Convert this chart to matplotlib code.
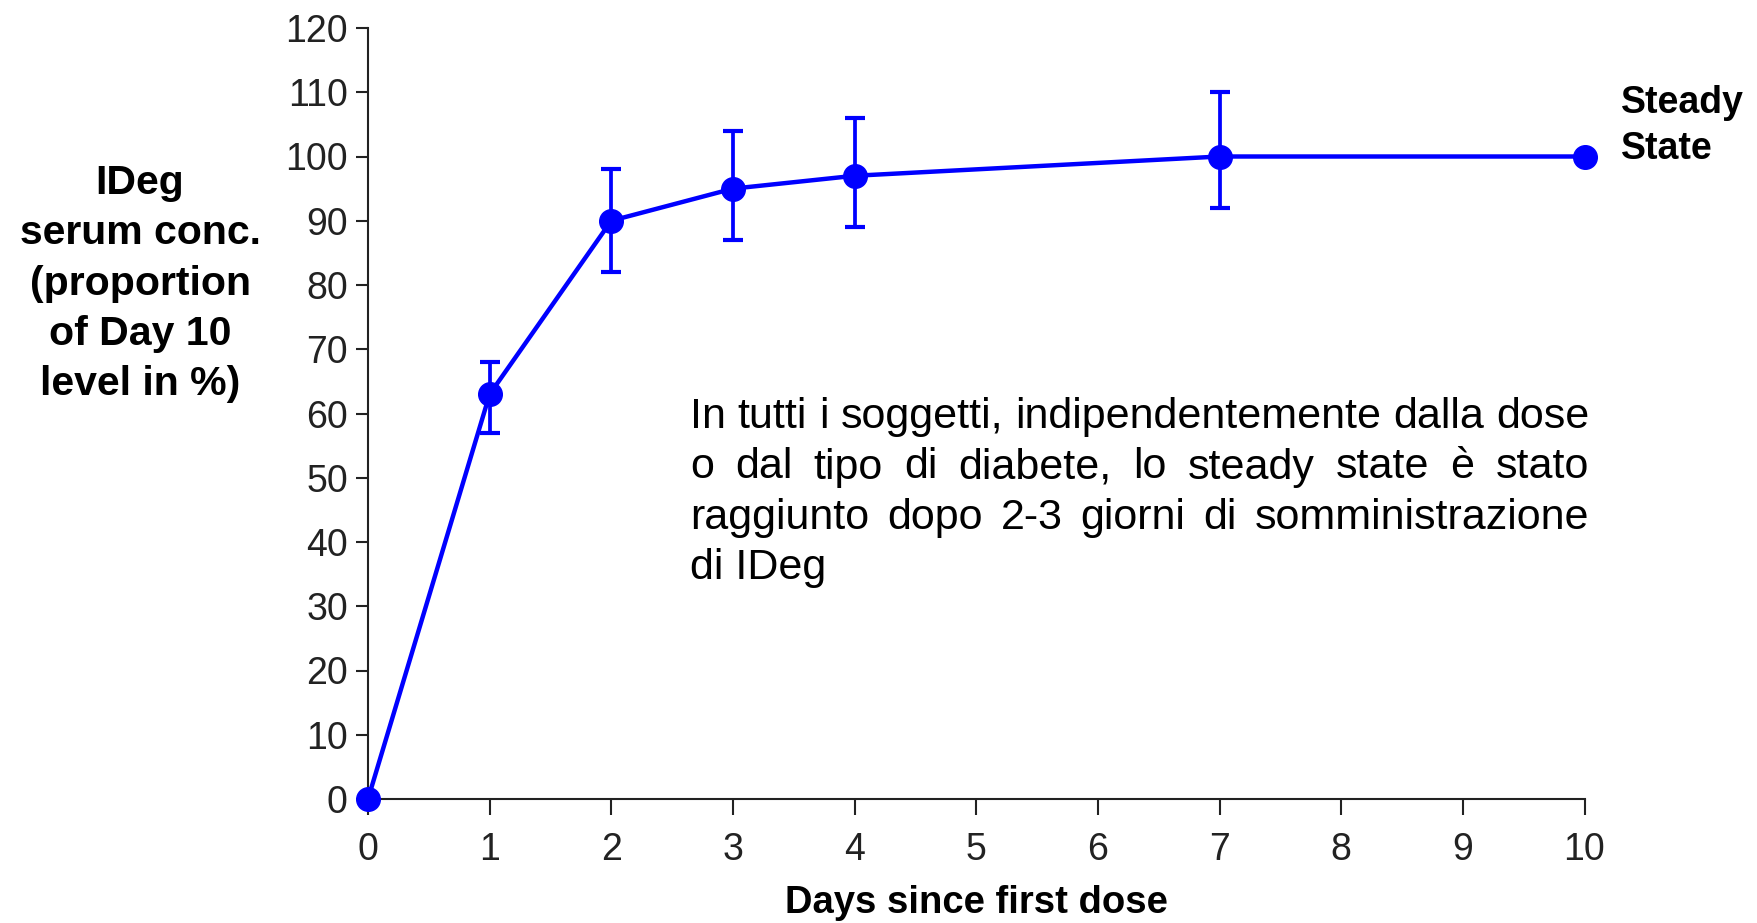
import matplotlib
matplotlib.use("Agg")
import matplotlib.pyplot as plt

# Mean IDeg serum concentration relative to day 10, with error bars
days = [0, 1, 2, 3, 4, 7, 10]
conc = [0, 63, 90, 95, 97, 100, 100]
err_low = [0, 6, 8, 8, 8, 8, 0]
err_high = [0, 5, 8, 9, 9, 10, 0]

x_ticks = list(range(0, 11))
y_ticks = list(range(0, 121, 10))

note_lines = ["In tutti i soggetti, indipendentemente dalla dose",
              "o dal tipo di diabete, lo steady state è stato",
              "raggiunto dopo 2-3 giorni di somministrazione",
              "di IDeg"]

plt.rcParams['font.family'] = ['Liberation Sans', 'DejaVu Sans']

W, H = 1757, 923
fig = plt.figure(figsize=(W / 100, H / 100), dpi=100)
ax = fig.add_axes([368 / W, 1 - 799 / H, (1584.5 - 368) / W, (799 - 28) / H])

blue = "#0000FF"
ax.plot(days, conc, color=blue, lw=3.2, marker="o", ms=17, clip_on=False, zorder=5)
# error bars only where there is spread (days 1-7)
ax.errorbar(days[1:-1], conc[1:-1], yerr=[err_low[1:-1], err_high[1:-1]],
            fmt="none", ecolor=blue, elinewidth=2.7, capsize=7, capthick=3,
            clip_on=False, zorder=5)

ax.set_xlim(0, 10)
ax.set_ylim(0, 120)
ax.set_xticks(x_ticks)
ax.set_yticks(y_ticks)

for s in ["top", "right"]:
    ax.spines[s].set_visible(False)
for s in ["left", "bottom"]:
    ax.spines[s].set_linewidth(1.5)
    ax.spines[s].set_color("#222222")

ax.tick_params(axis="x", direction="out", length=11.5, width=1.5, pad=12,
               labelsize=27, colors="#222222")
ax.tick_params(axis="y", direction="out", length=8.5, width=1.5, pad=6,
               labelsize=27, colors="#222222")

ax.set_xlabel("Days since first dose", fontsize=27.5, fontweight="bold")
ax.xaxis.set_label_coords((976 - 368) / (1584.5 - 368), -(903 - 799) / (799 - 28))
ax.xaxis.label.set_va("center")

fig.text(140 / W, 1 - 283.5 / H, "IDeg\nserum conc.\n(proportion\nof Day 10\nlevel in %)",
         ha="center", va="center", multialignment="center",
         fontsize=29.5, fontweight="bold", linespacing=1.41)

fig.text(1621 / W, 1 - 126 / H, "Steady\nState", ha="left", va="center",
         fontsize=27, fontweight="bold", linespacing=1.36)

# justified note block
renderer = fig.canvas.get_renderer()
left_px, right_px = 690, 1589
base_px = 428
step_px = 50.5
for i, line in enumerate(note_lines):
    y = 1 - (base_px + i * step_px) / H
    words = line.split()
    if i == len(note_lines) - 1:
        fig.text(left_px / W, y, line, fontsize=31, va="baseline", ha="left")
        continue
    texts = [fig.text(0, y, w, fontsize=31, va="baseline", ha="left") for w in words]
    widths = [t.get_window_extent(renderer).width for t in texts]
    gap = (right_px - left_px - sum(widths)) / (len(words) - 1)
    x = left_px
    for t, w in zip(texts, widths):
        t.set_x(x / W)
        x += w + gap

fig.savefig("out.png", dpi=100)
